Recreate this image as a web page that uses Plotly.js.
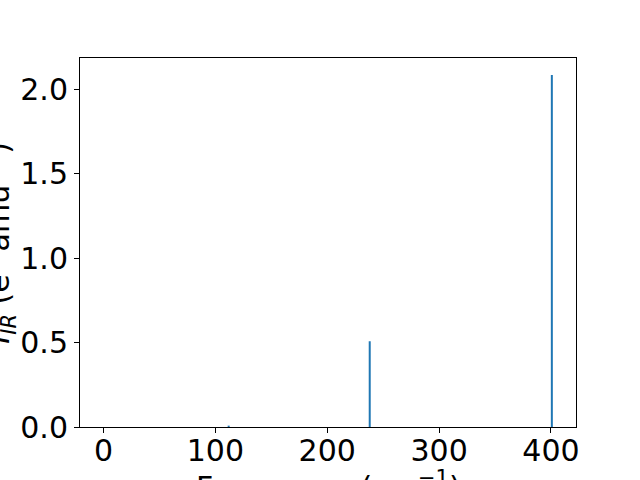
<!DOCTYPE html>
<html>
<head>
<meta charset="utf-8">
<script src="https://cdn.plot.ly/plotly-3.0.1.min.js"></script>
<style>html,body{margin:0;padding:0;background:#fff;}#chart{width:640px;height:480px;}</style>
</head>
<body>
<div id="chart"></div>
<script>
const frequencies = [111.9, 238.0, 400.8];
const intensities = [0.008, 0.508, 2.085];
const xTickVals = [0, 100, 200, 300, 400];
const yTickVals = [0.0, 0.5, 1.0, 1.5, 2.0];
const yTickText = ["0.0", "0.5", "1.0", "1.5", "2.0"];
const xLabel = "Frequency (cm<sup>\u22121</sup>)";
const yLabel = "<i>I</i><sub><i>IR</i></sub> (e<sup>2</sup> amu<sup>\u22121</sup>)";

const xs = [], ys = [];
frequencies.forEach((f, i) => { xs.push(f, f, null); ys.push(0, intensities[i], null); });

const FONT = "DejaVu Sans, sans-serif";
const FS = 30;
const data = [{
  x: xs, y: ys, type: "scatter", mode: "lines",
  line: {color: "#1f77b4", width: 2}, hoverinfo: "skip", showlegend: false
}];

const axisCommon = {
  showgrid: false, zeroline: false, showline: true, mirror: true,
  linecolor: "#000", linewidth: 1, ticks: "outside", ticklen: 5, tickwidth: 1,
  tickcolor: "#000", tickfont: {family: FONT, size: FS, color: "#000"}
};

const layout = {
  width: 640, height: 480,
  margin: {l: 80, r: 64, t: 58, b: 53},
  paper_bgcolor: "#fff", plot_bgcolor: "#fff",
  font: {family: FONT, color: "#000"},
  xaxis: Object.assign({}, axisCommon, {
    range: [-21.0, 422.4], tickvals: xTickVals, ticklabelstandoff: -8
  }),
  yaxis: Object.assign({}, axisCommon, {
    range: [0, 2.186], tickvals: yTickVals, ticktext: yTickText
  }),
  annotations: [{
    text: yLabel, xref: "paper", yref: "paper", x: -0.163, y: 0.5,
    xanchor: "center", yanchor: "middle", textangle: -90, showarrow: false,
    font: {family: FONT, size: FS, color: "#000"}
  }, {
    text: xLabel, xref: "paper", yref: "paper", x: 0.5, y: -0.101,
    xanchor: "center", yanchor: "top", showarrow: false,
    font: {family: FONT, size: FS, color: "#000"}
  }]
};

Plotly.newPlot("chart", data, layout, {staticPlot: true, displayModeBar: false});
</script>
</body>
</html>
